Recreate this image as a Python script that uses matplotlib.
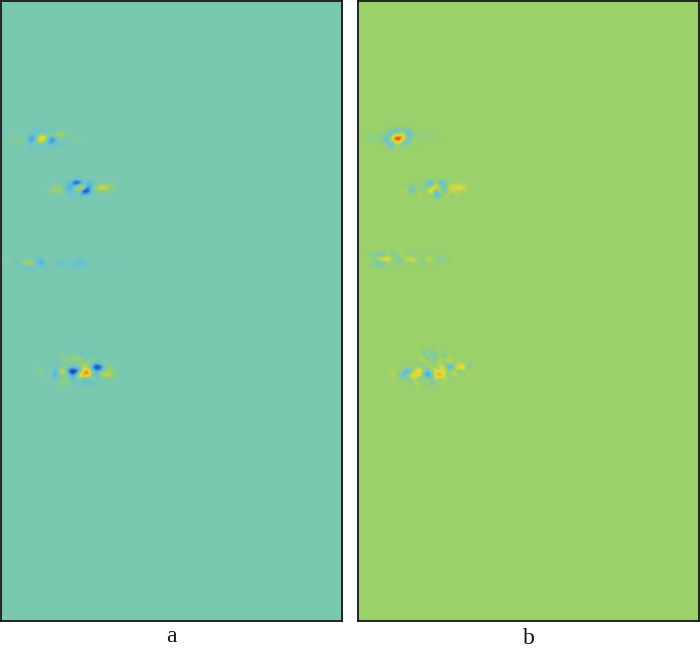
import numpy as np
import matplotlib
matplotlib.use('Agg')
import matplotlib.pyplot as plt
from matplotlib.colors import LinearSegmentedColormap

# cell values, each patch is a small block of the field
a_patch_1 = [
    [0, 0, 0, 0, 0, 0, -.2, -.25, -.15, -.2, 0, -.15, 0, 0, 0, 0, 0, 0],
    [0, 0, 0, 0, 0, -.15, -.15, .15, .3, .1, .15, .25, .3, .25, .05, 0, 0, 0],
    [.08, .08, .08, .1, -.15, -.5, -.35, .6, .7, .1, -.6, -.45, .1, .05, -.1, .05, .05, .05],
    [0, 0, 0, 0, .1, -.25, .15, .1, .1, -.2, -.4, 0, -.1, -.15, 0, 0, 0, 0],
    [0, 0, 0, 0, 0, -.2, 0, -.25, -.15, 0, 0, -.15, 0, 0, 0, 0, 0, 0],
]
a_patch_2 = [
    [0, 0, 0, 0, -.15, -.2, -.9, -.85, -.15, -.2, -.25, -.1, 0, 0, 0, 0, 0],
    [0, .15, .15, 0, -.25, -.35, .2, .5, .65, -.4, -.3, .15, .4, .45, .4, .25, .1],
    [.15, .2, .25, .1, -.15, -.15, -.15, .2, -.85, -.9, -.15, .1, .15, .1, 0, 0, 0],
    [0, 0, 0, 0, 0, -.2, 0, -.15, -.2, 0, -.15, 0, 0, 0, 0, 0, 0],
]
a_patch_3 = [
    [0, 0, 0, 0, 0, 0, 0, -.1, -.15, -.1, 0, 0, 0, 0, -.1, 0, -.12, 0, -.15, -.12, 0, 0, 0, -.06, 0, -.05, 0, 0, 0, 0],
    [.06, .1, -.15, -.15, .2, .3, .3, .15, -.35, -.35, .1, 0, -.15, -.1, -.2, .1, -.2, -.12, -.25, -.15, -.06, 0, -.06, -.06, -.05, 0, -.05, -.05, 0, -.03],
    [0, 0, 0, 0, -.15, -.15, -.1, -.15, 0, 0, -.12, 0, .05, -.15, 0, -.15, 0, -.15, 0, -.1, 0, 0, 0, 0, 0, 0, 0, 0, 0, 0],
]
a_patch_4 = [
    [0, 0, 0, 0, 0, 0, 0, 0, -.12, 0, -.12, 0, -.12, 0, 0, 0, 0, 0, 0, 0],
    [0, 0, 0, 0, 0, 0, .15, -.15, .12, .12, 0, -.2, .12, -.15, 0, 0, 0, 0, 0, 0],
    [0, 0, 0, 0, 0, 0, .15, .2, .1, .15, .25, .1, -.15, .15, 0, 0, 0, 0, 0, 0],
    [0, 0, 0, 0, 0, -.15, .12, -.15, .2, -.2, .1, .15, .2, .12, -.15, 0, .1, 0, 0, 0],
    [0, 0, 0, 0, 0, -.2, .1, .2, -.15, .15, 0, .3, .2, -.2, -.85, -.9, -.3, .15, .1, 0],
    [.12, .15, -.15, .12, -.4, .3, .5, -.3, -.95, -1, -.4, .4, .9, .1, -.15, -.3, .12, .2, .12, .08],
    [0, 0, .1, 0, -.35, -.15, .3, .1, -.3, -.25, .6, .75, .7, .4, -.4, .2, .35, .4, .3, .1],
    [0, 0, 0, 0, -.15, .12, -.2, .15, -.2, -.15, .12, -.15, -.2, 0, .12, -.15, 0, 0, 0, 0],
    [0, 0, 0, 0, 0, .12, .2, .2, 0, -.15, 0, -.3, 0, -.25, 0, 0, 0, 0, 0, 0],
]

b_patch_1 = [
    [0, 0, 0, 0, 0, 0, -.4, -.6, -.5, -.3, -.6, 0, 0, -.1, 0, 0, 0, 0, 0],
    [-.1, -.1, -.1, -.05, -.2, -.55, -.2, .3, .5, .45, -.6, -.2, -.1, .05, -.2, 0, -.1, 0, 0],
    [-.1, -.12, -.1, -.05, -.35, -.5, .7, 1.15, 1.05, .3, -.5, -.05, .05, -.1, .05, -.1, -.05, -.05, -.05],
    [0, 0, 0, 0, -.1, -.4, -.7, .15, 0, -.55, -.3, -.05, 0, -.1, 0, 0, 0, 0, 0],
    [0, 0, 0, 0, 0, 0, -.5, .12, -.1, 0, 0, 0, 0, 0, 0, 0, 0, 0, 0],
]
b_patch_2 = [
    [0, 0, 0, 0, 0, 0, -.6, -.9, .25, -.7, -.4, 0, 0, 0, 0, 0],
    [0, -.2, -.3, .1, -.45, .15, -.4, .45, .5, .1, -.6, .15, .3, .35, .4, .25],
    [.1, .1, -.7, .05, .15, -.4, .5, .4, -.5, .4, -.7, .2, .2, .1, .1, .05],
    [0, 0, 0, 0, .1, .15, -.2, .25, -1.1, -.35, .25, .1, -.2, .15, 0, 0],
]
b_patch_3 = [
    [0, -.1, -.2, -.35, -.35, -.45, .1, -.35, -.2, .25, -.1, 0, -.2, -.2, 0, -.2, 0, -.1, 0, 0, 0, 0, 0, 0, 0, 0, 0, 0],
    [.05, .05, .05, .1, .4, .6, .5, .25, -.45, -.2, .15, .25, .3, .25, -.2, .25, .1, .25, -.2, -.2, -.2, -.1, 0, .05, 0, .03, .03, 0],
    [0, 0, -.2, -.45, -.5, -.35, .05, -.35, .25, -.35, .1, -.2, .05, -.1, .1, -.5, .25, -.2, 0, 0, 0, 0, 0, 0, 0, 0, 0, 0],
    [0, 0, 0, 0, -.15, -.1, 0, 0, -.1, 0, 0, 0, 0, 0, 0, 0, 0, 0, 0, 0, 0, 0, 0, 0, 0, 0, 0, 0],
]
b_patch_4 = [
    [0, 0, 0, 0, 0, 0, 0, 0, -.25, 0, -.3, .1, 0, 0, 0, 0, 0, 0, 0, 0, 0, 0, 0],
    [0, 0, 0, 0, 0, 0, 0, .1, -.35, .1, -.35, -.2, .12, -.5, .1, 0, 0, 0, 0, 0, 0, 0, 0],
    [0, 0, 0, 0, 0, 0, 0, .15, .25, -.35, .15, -.25, .2, .12, .15, 0, 0, 0, 0, 0, 0, 0, 0],
    [0, 0, 0, 0, 0, 0, 0, -.2, .12, .15, -.35, .1, .15, -.25, .12, .1, 0, 0, 0, 0, 0, 0, 0],
    [0, 0, 0, 0, 0, .05, -.2, .1, -.35, .12, .25, -.25, .2, .45, -.9, -1.0, .35, .7, .45, -.5, 0, 0, 0],
    [.1, .05, .1, -.35, -1.0, -.2, .45, .4, .15, -.7, .1, .4, .15, .3, .1, .25, .05, -.35, .1, .1, .05, 0, .05],
    [.12, .1, -.35, -.8, .15, .5, .25, .65, -.9, -1.05, -.5, .65, .8, .4, -.35, .15, .15, 0, -.2, .1, .05, .05, 0],
    [0, 0, 0, 0, -.35, .1, .2, -.5, .3, .1, -.2, .25, -.35, .15, .1, -.2, 0, 0, 0, 0, 0, 0, 0],
    [0, 0, 0, 0, 0, -.2, .12, .25, -.35, .1, -.5, 0, .1, 0, 0, 0, 0, 0, 0, 0, 0, 0, 0],
]

a_patches = [a_patch_1, a_patch_2, a_patch_3, a_patch_4]
a_cols = [2, 12, 1, 9]
a_rows = [32, 45, 64, 87]
b_patches = [b_patch_1, b_patch_2, b_patch_3, b_patch_4]
b_cols = [2, 11, 1, 8]
b_rows = [32, 45, 63, 87]
panel_labels = ['a', 'b']

n_cols = 85
n_rows = 155

W, H = 700, 656

pale_jet = LinearSegmentedColormap.from_list('pale_jet', [
    (0.0, '#2a1f8f'), (0.14, '#2f5fc8'), (0.3, '#4fb0dc'), (0.4, '#6cc4c8'),
    (0.47, '#7bc8b1'), (0.58, '#9ad16b'), (0.72, '#e6dc3a'), (0.84, '#f2a020'),
    (0.93, '#e2401a'), (1.0, '#b01818')])


def buildField(patches, cols, rows):
    field = np.zeros((n_rows, n_cols))
    for patch, c, r in zip(patches, cols, rows):
        patch = np.array(patch)
        field[r:r + patch.shape[0], c:c + patch.shape[1]] = patch
    return field


def addPanel(rect, field, vmin, vmax, label, label_y):
    x0, y0, x1, y1 = rect
    ax = fig.add_axes([x0 / W, 1 - y1 / H, (x1 - x0) / W, (y1 - y0) / H])
    ax.imshow(field, cmap=pale_jet, vmin=vmin, vmax=vmax, aspect='auto',
              interpolation='bicubic')
    ax.set_xticks([])
    ax.set_yticks([])
    for s in ax.spines.values():
        s.set_linewidth(1.3)
        s.set_color('#151515')
    fig.text((x0 + x1) / 2 / W, 1 - label_y / H, label, ha='center', va='center',
             family='Liberation Serif', fontsize=17, color='#111111')


fig = plt.figure(figsize=(W / 100, H / 100), dpi=100)
addPanel((1, 1, 342, 621), buildField(a_patches, a_cols, a_rows), -0.8, 0.9, panel_labels[0], 637)
addPanel((358, 1, 699, 621), buildField(b_patches, b_cols, b_rows), -1.38, 1.0, panel_labels[1], 638)
fig.savefig('out.png', dpi=100)
